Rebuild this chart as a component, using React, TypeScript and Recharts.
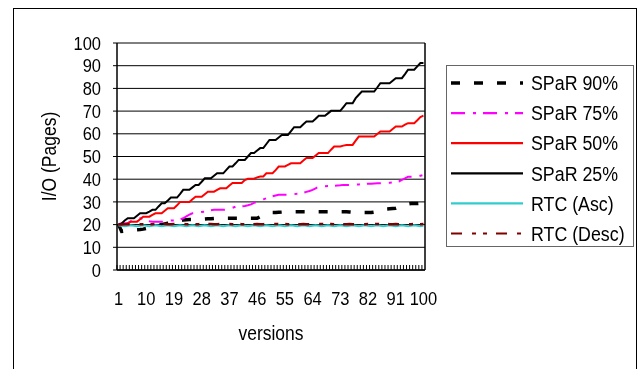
import React from 'react';
import { LineChart, Line, XAxis, YAxis, CartesianGrid, Legend, Label } from 'recharts';

const versions = [
  1, 2, 3, 4, 5, 6, 7, 8, 9, 10, 11, 12, 13, 14, 15, 16, 17, 18, 19, 20,
  21, 22, 23, 24, 25, 26, 27, 28, 29, 30, 31, 32, 33, 34, 35, 36, 37, 38, 39, 40,
  41, 42, 43, 44, 45, 46, 47, 48, 49, 50, 51, 52, 53, 54, 55, 56, 57, 58, 59, 60,
  61, 62, 63, 64, 65, 66, 67, 68, 69, 70, 71, 72, 73, 74, 75, 76, 77, 78, 79, 80,
  81, 82, 83, 84, 85, 86, 87, 88, 89, 90, 91, 92, 93, 94, 95, 96, 97, 98, 99, 100,
];

const xTickLabels = [1, 10, 19, 28, 37, 46, 55, 64, 73, 82, 91, 100];
const yTicks = [0, 10, 20, 30, 40, 50, 60, 70, 80, 90, 100];

const spar90 = [
  20, 17, 17.2, 17.4, 17.5, 17.6, 17.7, 17.8, 18, 18.3,
  18.6, 19, 19.4, 19.8, 20, 20.3, 20.6, 20.9, 21.2, 21.5,
  21.8, 22, 22.1, 22.2, 22.2, 22.3, 22.3, 22.4, 22.5, 22.6,
  22.6, 22.7, 22.7, 22.8, 22.8, 22.8, 22.8, 22.8, 22.8, 22.8,
  22.8, 22.8, 22.8, 22.8, 22.8, 22.8, 23.5, 24.2, 24.8, 25.2,
  25.3, 25.3, 25.4, 25.5, 25.5, 25.5, 25.6, 25.7, 25.7, 25.7,
  25.7, 25.7, 25.7, 25.7, 25.7, 25.7, 25.7, 25.7, 25.7, 25.7,
  25.7, 25.7, 25.7, 25.7, 25.7, 25.6, 25.5, 25.4, 25.3, 25.3,
  25.3, 25.3, 25.3, 25.5, 25.8, 26.2, 26.6, 26.9, 27, 27.1,
  27.2, 27.6, 28.2, 28.8, 29.1, 29.3, 29.3, 29.3, 29.4, 29.5,
];

const spar75 = [
  20.3, 20.5, 20.6, 20.6, 21.5, 22, 22.5, 22.8, 22.5, 22,
  21.5, 21.3, 21.3, 21.3, 21.3, 21.3, 21.5, 21.8, 21.8, 22.1,
  22.3, 22.8, 23.6, 24.4, 25, 25.2, 25.4, 25.6, 25.7, 26,
  26.3, 26.5, 26.5, 26.5, 26.5, 26.6, 27, 27.4, 27.9, 27.9,
  28, 28.2, 28.5, 28.9, 29.6, 30.1, 30.6, 31.1, 31.6, 32,
  32.5, 32.8, 33.1, 33.1, 33.1, 33.1, 33.2, 33.4, 33.6, 33.8,
  34, 34.4, 34.8, 35.3, 36, 36.8, 36.9, 36.9, 37, 37,
  37.1, 37.2, 37.3, 37.5, 37.5, 37.5, 37.5, 37.6, 37.7, 37.9,
  37.9, 38, 38, 38.1, 38.2, 38.2, 38.2, 38.2, 38.4, 38.6,
  38.8, 39, 39.7, 40.4, 41.1, 41.1, 41.1, 41.1, 41.5, 41.8,
];

const spar50 = [
  20, 20, 20, 20.6, 21.3, 21.3, 21.3, 22.4, 23.5, 23.5,
  23.5, 24.3, 25, 25, 25, 26.1, 27.2, 27.2, 27.2, 28.5,
  30, 30, 30, 30, 31.2, 32.3, 32.3, 32.3, 33.4, 34.5,
  34.5, 34.5, 35.3, 36, 36, 36, 37.2, 38.3, 38.3, 38.3,
  38.3, 39.6, 40.2, 40.2, 40.2, 40.8, 41.2, 41.2, 42.6, 42.6,
  42.6, 44, 45.6, 45.6, 45.6, 46.3, 47, 47, 47, 47,
  48.2, 49.3, 49.3, 49.3, 50.4, 51.5, 51.5, 51.5, 51.5, 53,
  54.4, 54.4, 54.4, 54.8, 55.1, 55.1, 55.1, 57, 58.8, 58.8,
  58.8, 58.8, 58.8, 58.8, 59.9, 61, 61, 61, 61, 62.1,
  63.2, 63.2, 63.2, 64, 64.7, 64.7, 64.7, 66, 67.4, 68,
];

const spar25 = [
  20, 20.5, 21.8, 22.8, 22.8, 22.8, 23.9, 25, 25, 25,
  25.7, 26.5, 26.5, 28, 29.4, 29.4, 30.6, 31.9, 31.9, 31.9,
  33.5, 35.3, 35.3, 35.3, 36.4, 37.5, 37.5, 38.9, 40.4, 40.4,
  40.4, 41.5, 42.6, 42.6, 42.6, 44.1, 45.6, 45.6, 47, 48.5,
  48.5, 48.5, 50, 51.5, 51.5, 52.6, 53.7, 53.7, 55.5, 57.3,
  57.3, 57.3, 58.4, 59.5, 59.5, 59.5, 61.2, 62.9, 62.9, 62.9,
  64.2, 65.4, 65.4, 65.4, 66.6, 67.9, 67.9, 67.9, 69, 70.1,
  70.1, 70.1, 70.1, 71.8, 73.5, 73.5, 73.5, 75.7, 77.2, 78.6,
  78.6, 78.6, 78.6, 78.6, 80.4, 82.3, 82.3, 82.3, 82.3, 83.4,
  84.5, 84.5, 84.5, 86.3, 88.2, 88.2, 88.2, 89.7, 91.2, 91.2,
];

const rtcAsc = [
  19.6, 19.5, 19.3, 19.5, 19.7, 19.5, 19.3, 19.5, 19.7, 19.5,
  19.3, 19.5, 19.7, 19.5, 19.3, 19.5, 19.7, 19.5, 19.3, 19.5,
  19.7, 19.5, 19.3, 19.5, 19.7, 19.5, 19.3, 19.5, 19.7, 19.5,
  19.3, 19.5, 19.7, 19.5, 19.3, 19.5, 19.7, 19.5, 19.3, 19.5,
  19.7, 19.5, 19.3, 19.5, 19.7, 19.5, 19.3, 19.5, 19.7, 19.5,
  19.3, 19.5, 19.7, 19.5, 19.3, 19.5, 19.7, 19.5, 19.3, 19.5,
  19.7, 19.5, 19.3, 19.5, 19.7, 19.5, 19.3, 19.5, 19.7, 19.5,
  19.3, 19.5, 19.7, 19.5, 19.3, 19.5, 19.7, 19.5, 19.3, 19.5,
  19.7, 19.5, 19.3, 19.5, 19.7, 19.5, 19.3, 19.5, 19.7, 19.5,
  19.3, 19.5, 19.7, 19.5, 19.3, 19.5, 19.7, 19.5, 19.3, 19.5,
];

const rtcDesc = [
  20, 20, 20.1, 20.1, 20.1, 20.2, 20.3, 20.2, 20.2, 20.3,
  20.2, 20.2, 20.3, 20.2, 20.2, 20.3, 20.2, 20.2, 20.3, 20.2,
  20.2, 20.3, 20.2, 20.2, 20.3, 20.2, 20.2, 20.3, 20.2, 20.2,
  20.3, 20.2, 20.2, 20.3, 20.2, 20.2, 20.3, 20.2, 20.2, 20.3,
  20.2, 20.2, 20.3, 20.2, 20.2, 20.3, 20.2, 20.2, 20.3, 20.2,
  20.2, 20.3, 20.2, 20.2, 20.3, 20.2, 20.2, 20.3, 20.2, 20.2,
  20.3, 20.2, 20.2, 20.3, 20.2, 20.2, 20.3, 20.2, 20.2, 20.3,
  20.2, 20.2, 20.3, 20.2, 20.2, 20.3, 20.2, 20.2, 20.3, 20.2,
  20.2, 20.3, 20.2, 20.2, 20.3, 20.2, 20.2, 20.3, 20.2, 20.2,
  20.3, 20.2, 20.2, 20.3, 20.2, 20.2, 20.3, 20.2, 20.2, 20.3,
];

const seriesNames = ['SPaR 90%', 'SPaR 75%', 'SPaR 50%', 'SPaR 25%', 'RTC (Asc)', 'RTC (Desc)'];

const data = versions.map((v, i) => ({
  version: v,
  spar90: spar90[i],
  spar75: spar75[i],
  spar50: spar50[i],
  spar25: spar25[i],
  rtcAsc: rtcAsc[i],
  rtcDesc: rtcDesc[i],
}));

const FONT = '"Liberation Sans", Arial, Helvetica, sans-serif';
const STRETCH = 1.15;

const series = [
  { key: 'spar90', name: seriesNames[0], color: '#000000', width: 3.5, dash: '9 14' },
  { key: 'spar75', name: seriesNames[1], color: '#FF00FF', width: 2, dash: '14 8 3 7' },
  { key: 'spar50', name: seriesNames[2], color: '#FF0000', width: 2, dash: undefined },
  { key: 'spar25', name: seriesNames[3], color: '#000000', width: 2, dash: undefined },
  { key: 'rtcAsc', name: seriesNames[4], color: '#33CCCC', width: 2, dash: undefined },
  { key: 'rtcDesc', name: seriesNames[5], color: '#800000', width: 2.5, dash: '11 10 4 7 4 9' },
];

const SText = (p: any) => {
  const { x, y, size, anchor = 'start', rotate = 0, dy, children } = p;
  return (
    <text
      x={0}
      y={0}
      dy={dy}
      transform={`translate(${x},${y}) rotate(${rotate}) scale(1,${STRETCH})`}
      textAnchor={anchor}
      fontSize={size}
      fontFamily={FONT}
      fill="#000"
    >
      {children}
    </text>
  );
};

const XTick = (props: any) => {
  const { x, y, payload } = props;
  const bx = x - 1.54;
  const show = xTickLabels.includes(payload.value);
  return (
    <g>
      <line x1={bx} x2={bx} y1={y} y2={y - 5} stroke="#000" strokeWidth={1} />
      {show && (
        <SText x={x} y={y + 34.5} size={16.5} anchor="middle">
          {payload.value}
        </SText>
      )}
    </g>
  );
};

const YTick = (props: any) => {
  const { x, y, payload } = props;
  return (
    <SText x={x} y={y + 6.6} size={16.5} anchor="end">
      {payload.value}
    </SText>
  );
};

const renderLegend = () => (
  <div
    style={{
      width: 188,
      height: 182,
      border: '1.5px solid #666',
      boxSizing: 'border-box',
      background: '#fff',
      position: 'relative',
    }}
  >
    <svg width={188} height={182} style={{ position: 'absolute', left: -1.5, top: -1.5 }}>
      {series.map((s, i) => {
        const cy = 18 + i * 30.1;
        return (
          <g key={s.key}>
            <line
              x1={5}
              x2={77}
              y1={cy}
              y2={cy}
              stroke={s.color}
              strokeWidth={s.key === 'spar90' ? 3.5 : 2.2}
              strokeDasharray={s.dash}
            />
            <SText x={85} y={cy + 7.2} size={17.8}>
              {s.name}
            </SText>
          </g>
        );
      })}
    </svg>
  </div>
);

export default function App() {
  return (
    <div>
      <div
        style={{
          position: 'fixed',
          left: 13,
          top: 8,
          width: 624,
          height: 400,
          border: '1px solid #000',
          boxSizing: 'border-box',
        }}
      />
      <div style={{ position: 'fixed', left: 0, top: 0, width: 642, height: 369 }}>
        <LineChart
          width={642}
          height={369}
          data={data}
          margin={{ top: 43, right: 216, bottom: 29, left: 57 }}
        >
          <CartesianGrid horizontal vertical={false} stroke="#000" strokeWidth={1} />
          <XAxis
            dataKey="version"
            type="category"
            scale="band"
            interval={0}
            height={70}
            tickLine={false}
            tickSize={0}
            tickMargin={0}
            tick={<XTick />}
            axisLine={{ stroke: '#000', strokeWidth: 1.5 }}
          >
            <Label
              content={(p: any) => {
                const vb = p.viewBox || {};
                return (
                  <SText x={vb.x + vb.width / 2} y={vb.y + 70} size={17.5} anchor="middle">
                    versions
                  </SText>
                );
              }}
            />
          </XAxis>
          <YAxis
            domain={[0, 100]}
            ticks={yTicks}
            width={60}
            tickSize={4}
            tickMargin={12}
            tickLine={{ stroke: '#000' }}
            axisLine={{ stroke: '#000', strokeWidth: 1.5 }}
            tick={<YTick />}
            interval={0}
          >
            <Label
              content={(p: any) => {
                const vb = p.viewBox || {};
                const cx = vb.x - 8;
                const cy = vb.y + vb.height / 2;
                return (
                  <SText x={cx + 7} y={cy} size={17.5} anchor="middle" rotate={-90}>
                    I/O (Pages)
                  </SText>
                );
              }}
            />
          </YAxis>
          <YAxis
            yAxisId="r"
            orientation="right"
            domain={[0, 100]}
            width={1}
            tick={false}
            tickLine={false}
            axisLine={{ stroke: '#000', strokeWidth: 1.5 }}
          />
          <Legend
            layout="vertical"
            align="center"
            verticalAlign="middle"
            content={renderLegend}
            wrapperStyle={{ position: 'absolute', left: 446, top: 65, width: 188, height: 182 }}
          />
          {series.map((s) => (
            <Line
              key={s.key}
              type="linear"
              dataKey={s.key}
              name={s.name}
              stroke={s.color}
              strokeWidth={s.width}
              strokeDasharray={s.dash}
              dot={false}
              activeDot={false}
              isAnimationActive={false}
            />
          ))}
        </LineChart>
      </div>
    </div>
  );
}
